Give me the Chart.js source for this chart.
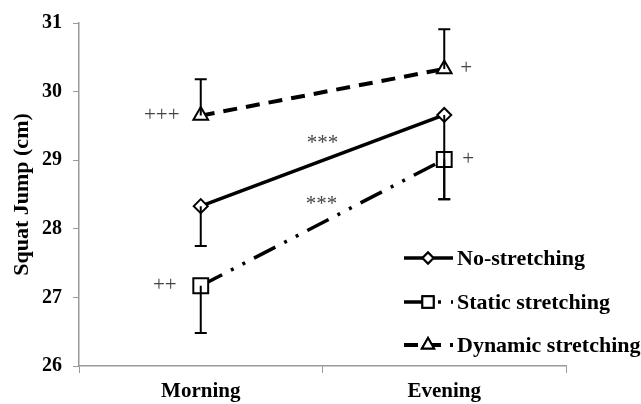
<!DOCTYPE html>
<html>
<head>
<meta charset="utf-8">
<script src="https://cdn.jsdelivr.net/npm/chart.js@4"></script>
<style>
    html, body { margin: 0; padding: 0; background: #fff; }
    #wrap { width: 641px; height: 404px; }
</style>
</head>
<body>
<div id="wrap"><canvas id="chartCanvas" width="641" height="404"></canvas></div>
<script>
// 数据
const categories = ['Morning', 'Evening'];
const seriesNames = ['No-stretching', 'Static stretching', 'Dynamic stretching'];
const noStretching = [28.33, 29.66];
const staticStretching = [27.17, 29.01];
const dynamicStretching = [29.65, 30.33];
// 误差线端点 (null = 不画)
const noStretchingLow = [27.75, 28.43];
const staticStretchingLow = [26.48, 28.43];
const dynamicStretchingHigh = [30.18, 30.91];
const yTicks = [26, 27, 28, 29, 30, 31];
// 标注
const noteTexts = ['+++', '++', '+', '+', '***', '***'];
const noteCats = [0, 0, 1, 1, 0.5, 0.5];
const noteValues = [29.65, 27.17, 30.33, 29.01, 29.31, 28.43];

const SERIF = '"Liberation Serif", "Times New Roman", serif';

const styles = [
    { dash: [], width: 3.5, point: 'rectRot', radius: 7, legendRadius: 5.5 },
    { dash: [24, 10, 3, 10, 3, 10], width: 3.5, point: 'rect', radius: 10.5, legendRadius: 8 },
    { dash: [14, 9], width: 4, point: 'triangle', radius: 8.5, legendRadius: 7 }
];

const errorBars = [
    { low: noStretchingLow, high: null },
    { low: staticStretchingLow, high: null },
    { low: null, high: dynamicStretchingHigh }
];

const errorBarPlugin = {
    id: 'errorBars',
    afterDatasetsDraw(chart) {
        const ctx = chart.ctx;
        const x = chart.scales.x, y = chart.scales.y;
        ctx.save();
        ctx.strokeStyle = '#000';
        ctx.lineWidth = 2;
        errorBars.forEach((eb, di) => {
            const values = chart.data.datasets[di].data;
            values.forEach((v, i) => {
                const px = x.getPixelForValue(i);
                [eb.low, eb.high].forEach(arr => {
                    if (!arr || arr[i] == null) return;
                    const y0 = y.getPixelForValue(v);
                    const y1 = y.getPixelForValue(arr[i]);
                    ctx.beginPath();
                    ctx.moveTo(px, y0);
                    ctx.lineTo(px, y1);
                    ctx.moveTo(px - 6, y1);
                    ctx.lineTo(px + 6, y1);
                    ctx.stroke();
                });
            });
        });
        ctx.restore();
    }
};

const notesPlugin = {
    id: 'notes',
    afterDatasetsDraw(chart) {
        const ctx = chart.ctx;
        const x = chart.scales.x, y = chart.scales.y;
        const offsets = [-39, -36, 22, 24, 0, -1];
        ctx.save();
        ctx.fillStyle = '#444';
        ctx.font = '21px ' + SERIF;
        ctx.textAlign = 'center';
        ctx.textBaseline = 'middle';
        noteTexts.forEach((t, i) => {
            const c = noteCats[i];
            const lo = Math.floor(c), hi = Math.ceil(c);
            const px = x.getPixelForValue(lo) + (x.getPixelForValue(hi) - x.getPixelForValue(lo)) * (c - lo);
            let py = y.getPixelForValue(noteValues[i]);
            if (t === '***') py += 5;
            ctx.fillText(t, px + offsets[i], py);
        });
        ctx.restore();
    }
};

const legendPlugin = {
    id: 'customLegend',
    afterDraw(chart) {
        const ctx = chart.ctx;
        const rows = [258, 302, 345];
        ctx.save();
        seriesNames.forEach((name, i) => {
            const st = styles[i];
            const yy = rows[i];
            ctx.strokeStyle = '#000';
            ctx.lineWidth = st.width;
            ctx.setLineDash(st.dash);
            ctx.beginPath();
            ctx.moveTo(404, yy);
            ctx.lineTo(453, yy);
            ctx.stroke();
            ctx.setLineDash([]);
            ctx.fillStyle = '#fff';
            ctx.lineWidth = 2;
            Chart.helpers.drawPoint(ctx, { pointStyle: st.point, radius: st.legendRadius, borderWidth: 2 }, 428, yy);
            ctx.fill();
            ctx.stroke();
            ctx.fillStyle = '#000';
            ctx.font = 'bold 22px ' + SERIF;
            ctx.textAlign = 'left';
            ctx.textBaseline = 'middle';
            ctx.fillText(name, 457, yy + 1);
        });
        ctx.restore();
    }
};

const datasets = [noStretching, staticStretching, dynamicStretching].map((d, i) => ({
    label: seriesNames[i],
    data: d,
    borderColor: '#000',
    borderWidth: styles[i].width,
    borderDash: styles[i].dash,
    pointStyle: styles[i].point,
    pointRadius: styles[i].radius,
    pointBackgroundColor: '#fff',
    pointBorderColor: '#000',
    pointBorderWidth: 2,
    tension: 0,
    fill: false
}));

const chart = new Chart(document.getElementById('chartCanvas').getContext('2d'), {
    type: 'line',
    data: { labels: categories, datasets: datasets },
    options: {
        responsive: false,
        animation: false,
        layout: { padding: { top: 19, right: 75, left: 0, bottom: 0 } },
        plugins: { legend: { display: false }, tooltip: { enabled: false } },
        scales: {
            x: {
                offset: true,
                grid: { offset: true, drawOnChartArea: false, drawTicks: true, tickLength: 7, color: '#999' },
                border: { color: '#999', width: 1.5 },
                ticks: { color: '#000', padding: 6, font: { family: SERIF, size: 21, weight: 'bold' } },
                afterFit(scale) { scale.height = 38; }
            },
            y: {
                min: 26,
                max: 31,
                afterBuildTicks(scale) { scale.ticks = yTicks.map(v => ({ value: v })); },
                grid: { drawOnChartArea: false, drawTicks: true, tickLength: 6, color: '#999' },
                border: { color: '#999', width: 1.5 },
                ticks: { color: '#000', padding: 11, font: { family: SERIF, size: 20, weight: 'bold' } },
                title: {
                    display: true,
                    text: 'Squat Jump (cm)',
                    color: '#000',
                    padding: { top: 9, bottom: 4 },
                    font: { family: SERIF, size: 22, weight: 'bold' }
                },
                afterFit(scale) { scale.width = 79; }
            }
        }
    },
    plugins: [errorBarPlugin, notesPlugin, legendPlugin]
});
</script>
</body>
</html>
